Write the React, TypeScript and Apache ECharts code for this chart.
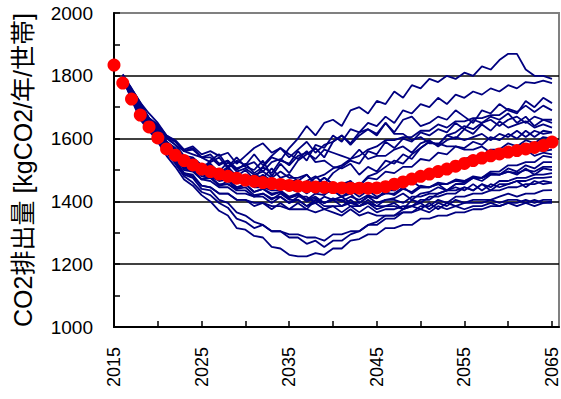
import React, { useEffect, useRef } from "react";
import * as echarts from "echarts";

// Years of the red (mean) series: 2015..2065
const meanYears: number[] = [
  2015, 2016, 2017, 2018, 2019, 2020, 2021, 2022, 2023, 2024,
  2025, 2026, 2027, 2028, 2029, 2030, 2031, 2032, 2033, 2034,
  2035, 2036, 2037, 2038, 2039, 2040, 2041, 2042, 2043, 2044,
  2045, 2046, 2047, 2048, 2049, 2050, 2051, 2052, 2053, 2054,
  2055, 2056, 2057, 2058, 2059, 2060, 2061, 2062, 2063, 2064, 2065,
];
const meanValues: number[] = [
  1834, 1777, 1726, 1675, 1637, 1602, 1567, 1547, 1530, 1516,
  1503, 1495, 1487, 1480, 1474, 1468, 1464, 1460, 1457, 1454,
  1451, 1449, 1447, 1446, 1445, 1444, 1443, 1442, 1442, 1442,
  1443, 1447, 1455, 1462, 1471, 1480, 1487, 1495, 1503, 1512,
  1521, 1530, 1538, 1545, 1551, 1557, 1562, 1567, 1572, 1578, 1589,
];

// Years of the scenario lines: 2016..2065
const runYears: number[] = meanYears.slice(1);

const run01 = [1805,1760,1715,1680,1650,1610,1590,1560,1570,1540, 1550,1520,1530,1500,1520,1490,1510,1540,1530,1570, 1600,1640,1610,1650,1660,1640,1690,1700,1680,1720, 1710,1750,1730,1770,1760,1790,1780,1800,1790,1810, 1800,1830,1820,1850,1870,1870,1820,1800,1800,1790];
const run02 = [1800,1750,1705,1665,1640,1600,1580,1545,1540,1515, 1520,1490,1510,1480,1500,1470,1510,1490,1530,1520, 1560,1530,1580,1570,1610,1590,1630,1620,1650,1640, 1670,1650,1690,1680,1710,1700,1730,1710,1740,1730, 1750,1740,1760,1750,1770,1760,1780,1777,1785,1777];
const run03 = [1800,1745,1700,1655,1630,1585,1565,1530,1530,1500, 1530,1550,1510,1540,1510,1500,1530,1480,1520,1490, 1530,1550,1570,1540,1590,1610,1580,1610,1630,1610, 1650,1620,1660,1670,1640,1650,1670,1660,1690,1670, 1650,1690,1680,1710,1690,1680,1720,1700,1730,1713];
const run04 = [1795,1740,1690,1645,1620,1575,1555,1520,1515,1490, 1500,1470,1490,1460,1480,1450,1470,1440,1465,1440, 1430,1465,1480,1455,1490,1510,1530,1520,1560,1550, 1590,1570,1600,1590,1620,1610,1630,1620,1650,1630, 1660,1650,1670,1660,1680,1650,1670,1640,1660,1650];
const run05 = [1800,1760,1715,1665,1645,1610,1595,1565,1575,1550, 1560,1545,1555,1520,1545,1570,1585,1555,1570,1550, 1535,1560,1525,1530,1510,1505,1520,1485,1510,1495, 1530,1520,1550,1535,1570,1590,1580,1610,1600,1630, 1615,1645,1625,1655,1635,1645,1655,1635,1645,1635];
const run06 = [1790,1735,1675,1640,1605,1565,1545,1500,1495,1470, 1480,1450,1465,1440,1455,1430,1440,1420,1430,1410, 1425,1405,1425,1420,1445,1435,1455,1450,1475,1470, 1495,1490,1510,1510,1535,1530,1555,1550,1575,1570, 1590,1580,1605,1595,1615,1600,1625,1605,1625,1620];
const run07 = [1800,1750,1700,1655,1625,1590,1565,1535,1535,1515, 1515,1495,1525,1495,1505,1485,1475,1505,1475,1485, 1465,1485,1455,1475,1455,1450,1465,1435,1455,1445, 1455,1465,1445,1465,1475,1490,1485,1505,1520,1535, 1545,1545,1565,1565,1585,1575,1595,1585,1605,1600];
const run08 = [1795,1740,1690,1650,1610,1570,1550,1510,1505,1480, 1475,1450,1455,1440,1445,1420,1425,1410,1415,1395, 1405,1385,1395,1375,1385,1385,1395,1395,1415,1410, 1435,1435,1455,1455,1485,1485,1505,1505,1525,1525, 1545,1535,1555,1545,1565,1555,1565,1565,1560,1565];
const run09 = [1800,1755,1705,1665,1635,1605,1580,1560,1550,1540, 1525,1540,1505,1530,1515,1550,1515,1545,1570,1540, 1565,1590,1555,1580,1590,1610,1585,1620,1630,1615, 1650,1615,1615,1595,1605,1585,1585,1575,1575,1565, 1565,1575,1555,1565,1560,1545,1565,1545,1555,1550];
const run10 = [1790,1730,1675,1630,1595,1555,1530,1490,1480,1450, 1445,1425,1425,1405,1405,1395,1395,1385,1385,1375, 1395,1375,1405,1395,1405,1415,1395,1385,1405,1385, 1405,1410,1425,1405,1425,1430,1445,1435,1455,1460, 1475,1465,1485,1485,1505,1495,1515,1505,1525,1525];
const run11 = [1800,1745,1695,1650,1620,1580,1560,1525,1515,1495, 1495,1475,1485,1465,1465,1455,1455,1445,1445,1435, 1445,1425,1445,1425,1435,1415,1435,1415,1435,1415, 1425,1425,1445,1425,1445,1445,1455,1455,1465,1465, 1475,1475,1485,1485,1495,1485,1505,1485,1505,1500];
const run12 = [1795,1735,1680,1645,1605,1565,1545,1505,1500,1470, 1465,1445,1445,1425,1425,1415,1415,1395,1415,1395, 1415,1415,1395,1415,1405,1405,1385,1385,1395,1375, 1385,1385,1375,1405,1395,1415,1415,1425,1425,1445, 1435,1455,1445,1465,1465,1475,1475,1485,1485,1490];
const run13 = [1800,1750,1705,1655,1630,1590,1565,1535,1525,1505, 1505,1485,1505,1475,1485,1465,1485,1465,1465,1465, 1465,1445,1445,1435,1435,1415,1425,1395,1415,1395, 1405,1405,1395,1415,1415,1425,1425,1435,1435,1445, 1435,1455,1435,1455,1455,1465,1465,1475,1475,1478];
const run14 = [1790,1730,1665,1630,1595,1555,1520,1480,1460,1430, 1420,1395,1380,1345,1335,1315,1325,1305,1305,1295, 1295,1285,1285,1275,1295,1295,1305,1305,1325,1325, 1345,1345,1365,1365,1385,1385,1405,1395,1415,1415, 1425,1425,1435,1435,1445,1445,1455,1455,1465,1460];
const run15 = [1800,1740,1690,1645,1615,1570,1550,1505,1500,1470, 1475,1455,1455,1435,1435,1415,1425,1405,1425,1405, 1405,1385,1405,1385,1385,1365,1385,1365,1385,1365, 1375,1375,1385,1385,1395,1375,1395,1385,1405,1395, 1405,1405,1405,1415,1425,1415,1425,1425,1435,1436];
const run16 = [1795,1735,1680,1640,1600,1560,1535,1490,1485,1450, 1445,1425,1425,1405,1405,1385,1395,1375,1395,1375, 1375,1375,1365,1375,1365,1355,1375,1355,1365,1355, 1355,1355,1365,1365,1375,1365,1385,1375,1385,1375, 1385,1385,1395,1385,1395,1395,1405,1395,1405,1405];
const run17 = [1800,1745,1695,1655,1620,1580,1560,1520,1515,1490, 1495,1475,1485,1465,1465,1445,1445,1435,1435,1415, 1425,1405,1415,1395,1405,1385,1405,1385,1395,1385, 1385,1395,1375,1385,1375,1395,1375,1395,1385,1395, 1395,1395,1405,1395,1405,1405,1395,1405,1395,1400];
const run18 = [1790,1725,1660,1625,1590,1545,1510,1470,1450,1420, 1400,1370,1355,1315,1310,1290,1285,1255,1250,1230, 1225,1225,1235,1230,1250,1250,1275,1280,1295,1295, 1315,1315,1325,1325,1345,1345,1355,1355,1365,1365, 1375,1375,1385,1385,1395,1385,1395,1385,1395,1395];
const run19 = [1800,1735,1670,1635,1595,1555,1525,1485,1475,1440, 1435,1405,1395,1365,1355,1335,1325,1305,1305,1285, 1285,1265,1275,1255,1275,1275,1295,1305,1325,1335, 1355,1355,1375,1385,1405,1405,1425,1435,1455,1455, 1475,1475,1495,1495,1515,1515,1525,1525,1545,1540];
const run20 = [1800,1750,1700,1660,1630,1590,1570,1535,1535,1510, 1515,1495,1495,1475,1475,1455,1465,1445,1445,1435, 1455,1455,1475,1485,1505,1515,1535,1545,1565,1575, 1595,1595,1605,1605,1625,1625,1645,1635,1655,1655, 1665,1665,1675,1675,1695,1685,1705,1685,1705,1690];
const run21 = [1795,1745,1695,1650,1620,1580,1560,1520,1515,1490, 1495,1475,1475,1485,1465,1485,1495,1475,1495,1475, 1475,1485,1455,1475,1455,1455,1465,1435,1455,1435, 1455,1435,1455,1465,1445,1445,1455,1435,1445,1435, 1455,1435,1455,1445,1455,1465,1445,1465,1455,1460];
const run22 = [1800,1755,1710,1665,1640,1605,1590,1560,1565,1540, 1540,1515,1530,1505,1515,1525,1495,1525,1535,1515, 1545,1555,1535,1565,1555,1545,1535,1565,1535,1545, 1545,1565,1575,1555,1585,1595,1575,1595,1605,1595, 1605,1615,1595,1615,1605,1625,1605,1625,1615,1620];
const run23 = [1800,1750,1700,1660,1625,1585,1565,1530,1520,1500, 1495,1480,1470,1490,1460,1470,1450,1465,1440,1450, 1435,1445,1425,1440,1430,1445,1460,1450,1480,1490, 1510,1530,1520,1550,1570,1590,1580,1610,1620,1640, 1630,1650,1660,1640,1660,1670,1650,1670,1660,1660];
const run24 = [1795,1740,1690,1650,1615,1575,1550,1515,1510,1485, 1480,1465,1470,1445,1455,1430,1440,1425,1430,1410, 1420,1400,1410,1395,1410,1400,1415,1405,1420,1410, 1430,1420,1440,1430,1450,1445,1460,1455,1470,1465, 1480,1475,1490,1485,1495,1490,1500,1495,1510,1510];

const runs: number[][] = [
  run01, run02, run03, run04, run05, run06, run07, run08, run09, run10, run11, run12,
  run13, run14, run15, run16, run17, run18, run19, run20, run21, run22, run23, run24,
];

const yTicks = [1000, 1200, 1400, 1600, 1800, 2000];
const xLabelYears = [2015, 2025, 2035, 2045, 2055, 2065];
const yAxisTitle = "CO2排出量 [kgCO2/年/世帯]";

const FONT = "'Liberation Sans', Arial, 'Noto Sans CJK JP', sans-serif";

export default function App() {
  const ref = useRef<HTMLDivElement>(null);

  useEffect(() => {
    if (!ref.current) return;
    const chart = echarts.init(ref.current, null, { renderer: "svg" });

    const lineSeries = runs.map((vals, i) => ({
      type: "line",
      name: "run" + (i + 1),
      data: vals.map((v, j) => [runYears[j], v]),
      showSymbol: false,
      symbol: "none",
      lineStyle: { color: "#000080", width: 1.8 },
      z: 2,
      silent: true,
    }));

    chart.setOption({
      animation: false,
      grid: {
        left: 114,
        right: 2,
        top: 13,
        bottom: 72,
        show: true,
        borderColor: "#808080",
        borderWidth: 2,
        backgroundColor: "transparent",
      },
      xAxis: {
        type: "value",
        min: 2015,
        max: 2065.8,
        interval: 5,
        axisLine: { show: true, lineStyle: { color: "#000", width: 2 } },
        axisTick: { show: true, inside: true, length: 6, lineStyle: { color: "#000", width: 1.5 } },
        splitLine: { show: false },
        axisLabel: {
          rotate: 90,
          margin: 20,
          color: "#000",
          fontSize: 18,
          fontFamily: FONT,
          showMaxLabel: false,
          formatter: (v: number) => (xLabelYears.indexOf(v) >= 0 ? String(v) : ""),
        },
      },
      yAxis: {
        type: "value",
        min: yTicks[0],
        max: yTicks[yTicks.length - 1],
        interval: 200,
        name: yAxisTitle,
        nameLocation: "middle",
        nameGap: 79,
        nameTextStyle: { color: "#000", fontSize: 25, fontFamily: FONT },
        axisLine: { show: true, lineStyle: { color: "#000", width: 2 } },
        axisTick: { show: true, inside: true, length: 6, lineStyle: { color: "#000", width: 1.5 } },
        minorTick: { show: true, splitNumber: 2, length: 6, lineStyle: { color: "#000", width: 1.5 } },
        splitLine: {
          show: true,
          lineStyle: { color: ["#000", "#000", "#000", "#000", "#000", "#808080"], width: 1.5 },
        },
        axisLabel: {
          margin: 21,
          color: "#000",
          fontSize: 19,
          fontFamily: FONT,
          formatter: (v: number) => String(v),
        },
      },
      series: [
        ...lineSeries,
        {
          type: "scatter",
          name: "mean",
          data: meanValues.map((v, i) => [meanYears[i], v]),
          symbol: "circle",
          symbolSize: 13,
          itemStyle: { color: "#ff0000", opacity: 1 },
          z: 5,
          silent: true,
        },
      ],
    });

    return () => chart.dispose();
  }, []);

  return <div ref={ref} style={{ width: 561, height: 399, position: "absolute", left: 0, top: 0 }} />;
}
